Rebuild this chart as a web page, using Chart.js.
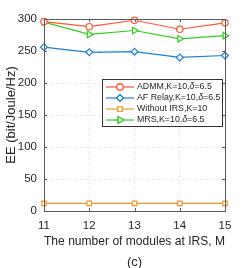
<!DOCTYPE html>
<html>
<head>
<meta charset="utf-8">
<script src="https://cdn.jsdelivr.net/npm/chart.js@4/dist/chart.umd.min.js"></script>
<style>
  html, body { margin: 0; padding: 0; background: #fff; }
  #wrap { width: 249px; height: 268px; }
</style>
</head>
<body>
<div id="wrap"><canvas id="myChart" width="249" height="268"></canvas></div>
<script>
"use strict";
// values
const modules = ["11", "12", "13", "14", "15"];
const admm = [296, 288, 298, 284, 294];
const afRelay = [256, 248, 249, 240, 243];
const withoutIrs = [12, 12, 12, 12, 12];
const mrs = [295, 276, 282, 269, 274];
const yTicks = [0, 50, 100, 150, 200, 250, 300];

const FONT = "'Liberation Sans', Arial, Helvetica, sans-serif";
const TXT = "#262626";

const series = [
  { label: "ADMM,K=10,δ=6.5", data: admm, color: "#ff5533", style: "circle", rot: 0, r: 3.2 },
  { label: "AF Relay,K=10,δ=6.5", data: afRelay, color: "#1f7fd2", style: "rectRot", rot: 0, r: 3.4 },
  { label: "Without IRS,K=10", data: withoutIrs, color: "#f0962d", style: "rect", rot: 0, r: 3.2 },
  { label: "MRS,K=10,δ=6.5", data: mrs, color: "#33cc22", style: "triangle", rot: 90, r: 3.8 },
];

// box, inner ticks, legend and the (c) caption
const extras = {
  id: "extras",
  afterDraw(chart) {
    const ctx = chart.ctx;
    const a = chart.chartArea;
    const xs = chart.scales.x;
    const ys = chart.scales.y;
    ctx.save();
    ctx.strokeStyle = "#5a5a5a";
    ctx.lineWidth = 1;
    ctx.strokeRect(a.left + 0.5, a.top + 0.5, a.right - a.left, a.bottom - a.top);
    ctx.beginPath();
    yTicks.forEach((v) => {
      const y = Math.round(ys.getPixelForValue(v)) + 0.5;
      ctx.moveTo(a.left, y); ctx.lineTo(a.left + 3, y);
      ctx.moveTo(a.right, y); ctx.lineTo(a.right - 3, y);
    });
    modules.forEach((m, i) => {
      const x = Math.round(xs.getPixelForValue(i)) + 0.5;
      ctx.moveTo(x, a.bottom); ctx.lineTo(x, a.bottom - 3);
      ctx.moveTo(x, a.top); ctx.lineTo(x, a.top + 3);
    });
    ctx.stroke();

    // legend
    const bx = a.left + 58, by = a.top + 60, bw = a.right - 3 - bx, bh = 47;
    ctx.fillStyle = "#fff";
    ctx.fillRect(bx, by, bw, bh);
    ctx.strokeStyle = "#333";
    ctx.strokeRect(bx + 0.5, by + 0.5, bw, bh);
    ctx.textBaseline = "middle";
    series.forEach((s, i) => {
      const y = by + 8 + i * 11;
      ctx.strokeStyle = s.color;
      ctx.lineWidth = 1.2;
      ctx.beginPath();
      ctx.moveTo(bx + 4, y); ctx.lineTo(bx + 32, y);
      ctx.stroke();
      Chart.helpers.drawPoint(ctx, {
        pointStyle: s.style, rotation: s.rot, radius: s.r, borderWidth: 1.2
      }, bx + 18, y);
      ctx.fillStyle = "#fff";
      ctx.fill();
      ctx.stroke();
      // label with italic delta
      let tx = bx + 35;
      ctx.fillStyle = TXT;
      s.label.split(/(δ)/).forEach((part) => {
        if (!part) return;
        ctx.font = (part === "δ" ? "italic " : "") + "8.8px " + FONT;
        ctx.fillText(part, tx, y);
        tx += ctx.measureText(part).width;
      });
    });

    ctx.font = "13px " + FONT;
    ctx.fillStyle = TXT;
    ctx.textAlign = "center";
    ctx.fillText("(c)", (a.left + a.right) / 2, 262);
    ctx.restore();
  },
};

new Chart(document.getElementById("myChart"), {
  type: "line",
  data: {
    labels: modules,
    datasets: series.map((s) => ({
      label: s.label,
      data: s.data,
      borderColor: s.color,
      backgroundColor: "#fff",
      borderWidth: 1.2,
      pointStyle: s.style,
      pointRotation: s.rot,
      pointRadius: s.r,
      pointBorderWidth: 1.2,
      pointBackgroundColor: "#fff",
      tension: 0,
      clip: false,
    })),
  },
  options: {
    responsive: false,
    animation: false,
    events: [],
    layout: { padding: { left: 4, top: 19, right: 24, bottom: 0 } },
    plugins: { legend: { display: false }, tooltip: { enabled: false } },
    scales: {
      x: {
        offset: false,
        grid: { color: "#e2e2e2", lineWidth: 0.8, drawTicks: false },
        border: { display: false, dash: [3, 3] },
        ticks: { color: TXT, padding: 8, font: { family: FONT, size: 11.5 } },
        title: {
          display: true,
          text: "The number of modules at IRS, M",
          color: TXT,
          font: { family: FONT, size: 13 },
          padding: { top: 0, bottom: 19 },
        },
        afterFit(scale) { scale.height = 57; },
      },
      y: {
        min: 0,
        max: 300,
        ticks: { stepSize: 50, color: TXT, padding: 7, font: { family: FONT, size: 11.5 } },
        grid: { color: "#e2e2e2", lineWidth: 0.8, drawTicks: false },
        border: { display: false, dash: [3, 3] },
        title: {
          display: true,
          text: "EE (bit/Joule/Hz)",
          color: TXT,
          font: { family: FONT, size: 13 },
          padding: 0,
        },
        afterFit(scale) { scale.width = 40; },
      },
    },
  },
  plugins: [extras],
});
</script>
</body>
</html>
